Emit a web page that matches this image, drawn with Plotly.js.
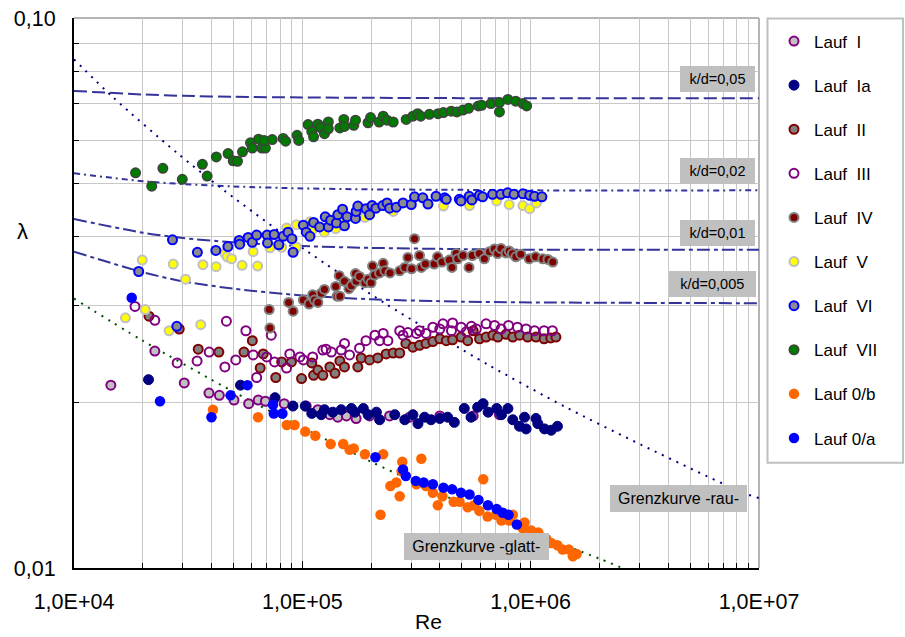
<!DOCTYPE html>
<html>
<head>
<meta charset="utf-8">
<script src="https://cdn.plot.ly/plotly-3.0.1.min.js"></script>
<style>html,body{margin:0;padding:0;background:#fff;}#chart{width:905px;height:637px;}</style>
</head>
<body>
<div id="chart"></div>
<script>
// ---------- data (Re, lambda) ----------
const seriesNames = ["Lauf\u00a0\u00a0I","Lauf\u00a0\u00a0Ia","Lauf\u00a0\u00a0II","Lauf\u00a0\u00a0III","Lauf\u00a0\u00a0IV","Lauf\u00a0\u00a0V","Lauf\u00a0\u00a0VI","Lauf\u00a0\u00a0VII","Lauf 0/b","Lauf 0/a"];

const reI  = [14500,22600,30400,39000,43300,50200,58200,64100,68900,83300,104000,117000,132000,143000,156000,172000,197000,241000,295000,400000,560000,730000];
const lamI = [0.0215,0.0248,0.0217,0.0208,0.0206,0.0202,0.0199,0.0202,0.0201,0.0199,0.0197,0.0194,0.0190,0.0188,0.0189,0.0187,0.0189,0.0189,0.0188,0.0189,0.0189,0.0190];

const reIa  = [21200,53600,75900,91000,103000,110000,121000,125000,136000,148000,164000,170000,185000,194000,211000,218000,254000,281000,305000,321000,343000,366000,400000,433000,463000,512000,548000,586000,619000,651000,710000,745000,795000,835000,893000,940000,955000,1055000,1075000,1150000,1230000,1310000];
const lamIa = [0.0220,0.0215,0.0204,0.0197,0.0197,0.0191,0.0190,0.0194,0.0192,0.0194,0.0195,0.0192,0.0195,0.0190,0.0192,0.0186,0.0190,0.0186,0.0190,0.0183,0.0188,0.0186,0.0187,0.0188,0.0184,0.0195,0.0188,0.0196,0.0199,0.0192,0.0195,0.0190,0.0195,0.0186,0.0181,0.0188,0.0179,0.0187,0.0183,0.0179,0.0178,0.0181];

const reII  = [21300,28900,35000,43100,55500,60400,65400,67400,76500,81200,89600,99200,110000,112000,117000,123000,132000,139000,146000,153000,175000,181000,197000,214000,233000,250000,267000,284000,305000,326000,348000,373000,400000,427000,455000,496000,530000,560000,597000,638000,683000,718000,780000,835000,895000,970000,1055000,1145000,1225000,1290000];
const lamII = [0.0287,0.0272,0.0250,0.0247,0.0247,0.0259,0.0231,0.0245,0.0222,0.0237,0.0237,0.0221,0.0236,0.0224,0.0229,0.0224,0.0232,0.0226,0.0238,0.0232,0.0232,0.0241,0.0239,0.0241,0.0245,0.0246,0.0246,0.0256,0.0252,0.0254,0.0256,0.0258,0.0261,0.0259,0.0260,0.0263,0.0259,0.0270,0.0261,0.0263,0.0265,0.0263,0.0266,0.0263,0.0265,0.0263,0.0263,0.0261,0.0262,0.0263];

const reIII  = [18500,22600,28300,34600,39100,45800,46500,51100,56600,60900,63100,69800,73100,75600,85300,88100,97600,101000,111000,123000,127000,134000,148000,153000,161000,178000,190000,208000,218000,226000,237000,267000,276000,290000,316000,326000,348000,373000,400000,413000,450000,455000,496000,523000,550000,578000,638000,695000,742000,800000,875000,955000,1040000,1145000,1245000];
const lamIII = [0.0299,0.0282,0.0236,0.0238,0.0247,0.0232,0.0281,0.0239,0.0270,0.0244,0.0222,0.0242,0.0265,0.0237,0.0231,0.0245,0.0242,0.0239,0.0242,0.0249,0.0250,0.0247,0.0249,0.0256,0.0244,0.0251,0.0259,0.0265,0.0259,0.0267,0.0259,0.0270,0.0265,0.0268,0.0267,0.0270,0.0267,0.0274,0.0272,0.0278,0.0270,0.0279,0.0274,0.0269,0.0275,0.0272,0.0278,0.0276,0.0272,0.0276,0.0274,0.0272,0.0270,0.0270,0.0270];

const reIV  = [71600,72100,87100,91100,101000,107000,111000,113000,117000,121000,125000,140000,142000,146000,145000,153000,160000,164000,171000,172000,178000,188000,194000,200000,203000,207000,218000,226000,230000,242000,267000,281000,290000,301000,310000,326000,332000,346000,378000,391000,409000,440000,452000,471000,479000,505000,537000,555000,596000,627000,660000,693000,716000,741000,780000,805000,832000,861000,905000,985000,1050000,1130000,1190000,1250000];
const lamIV = [0.0295,0.0273,0.0304,0.0293,0.0307,0.0302,0.0314,0.0307,0.0304,0.0316,0.0321,0.0325,0.0312,0.0312,0.0340,0.0332,0.0322,0.0326,0.0343,0.0332,0.0339,0.0330,0.0335,0.0330,0.0354,0.0341,0.0344,0.0358,0.0347,0.0344,0.0347,0.0352,0.0367,0.0350,0.0397,0.0370,0.0352,0.0357,0.0357,0.0368,0.0360,0.0363,0.0352,0.0373,0.0365,0.0370,0.0352,0.0370,0.0373,0.0365,0.0376,0.0380,0.0373,0.0381,0.0374,0.0377,0.0373,0.0368,0.0372,0.0365,0.0368,0.0365,0.0364,0.0360];

const reV  = [16800,20500,26100,35900,19900,27200,30800,36700,41900,45800,46900,49000,54500,60900,63700,72200,81200,85400,94300,94300,108000,110000,125000,140000,151000,188000,250000,415000,540000,710000,805000,925000,990000,1060000];
const lamV = [0.0285,0.0295,0.0270,0.0277,0.0363,0.0357,0.0335,0.0356,0.0353,0.0373,0.0368,0.0365,0.0355,0.0376,0.0354,0.0382,0.0383,0.0415,0.0383,0.0421,0.0426,0.0411,0.0408,0.0414,0.0432,0.0434,0.0445,0.0455,0.0456,0.0465,0.0458,0.0456,0.0450,0.0461];

const reVI  = [19200,27000,28200,34700,41800,47200,52900,53200,57900,60400,63100,70100,70400,75300,78900,82500,86600,90000,91100,101000,104000,108000,112000,119000,126000,130000,133000,141000,143000,150000,153000,157000,171000,172000,175000,190000,197000,202000,210000,225000,235000,241000,258000,276000,300000,310000,337000,355000,385000,420000,427000,487000,495000,538000,553000,596000,616000,681000,740000,792000,845000,925000,990000,1040000,1120000];
const lamVI = [0.0346,0.0395,0.0275,0.0375,0.0378,0.0384,0.0394,0.0388,0.0399,0.0391,0.0403,0.0403,0.0390,0.0404,0.0387,0.0401,0.0408,0.0397,0.0375,0.0420,0.0408,0.0401,0.0425,0.0417,0.0435,0.0417,0.0429,0.0424,0.0439,0.0449,0.0419,0.0435,0.0432,0.0445,0.0455,0.0450,0.0439,0.0456,0.0451,0.0456,0.0461,0.0451,0.0453,0.0461,0.0458,0.0473,0.0471,0.0459,0.0474,0.0471,0.0468,0.0468,0.0465,0.0474,0.0467,0.0476,0.0473,0.0478,0.0478,0.0481,0.0478,0.0479,0.0476,0.0474,0.0473];

const reVII  = [18600,21900,24500,29800,36500,38300,42000,47300,49800,52000,54700,59300,60400,64300,66500,68900,68000,73800,82400,84500,94800,96500,106000,110000,112000,117000,120000,125000,130000,130000,146000,152000,153000,168000,171000,194000,199000,217000,226000,235000,250000,285000,305000,320000,330000,360000,393000,415000,449000,475000,505000,535000,590000,610000,670000,730000,730000,795000,860000,925000,960000];
const lamVII = [0.0523,0.04945,0.0533,0.0509,0.0542,0.0516,0.0559,0.0567,0.0550,0.0549,0.0571,0.0593,0.0580,0.0602,0.0580,0.0580,0.0599,0.0601,0.0604,0.0597,0.0612,0.0599,0.0640,0.0622,0.0608,0.0641,0.0632,0.0616,0.0647,0.0629,0.0631,0.0654,0.0635,0.0638,0.0652,0.0645,0.0659,0.0647,0.0663,0.0652,0.0647,0.0654,0.0663,0.0670,0.0663,0.0668,0.0670,0.0673,0.0677,0.0675,0.0680,0.0685,0.0692,0.0694,0.0699,0.0675,0.0702,0.0711,0.0706,0.0699,0.0692];

const re0b  = [40600,64000,85500,92500,103000,114000,133000,151000,161000,168000,188000,226000,274000,332000,272000,258000,243000,267000,220000,316000,348000,373000,392000,411000,460000,488000,530000,565000,620000,596000,648000,705000,745000,805000,835000,940000,925000,1005000,1080000,1170000,1230000,1310000,1380000,1470000,1530000,1590000];
const lam0b = [0.0194,0.0188,0.0182,0.0182,0.0177,0.0174,0.0168,0.0168,0.0164,0.0165,0.0161,0.0161,0.0156,0.0158,0.0150,0.0143,0.0141,0.0135,0.0125,0.0142,0.0141,0.0137,0.0130,0.0135,0.0132,0.0132,0.0129,0.0130,0.0145,0.0127,0.0124,0.0125,0.0122,0.0122,0.0125,0.0121,0.0118,0.0117,0.0116,0.0113,0.0111,0.0110,0.0108,0.0108,0.0105,0.0106];

const re0a  = [17900,23800,40000,48500,57500,74400,75000,81800,209000,276000,284000,314000,340000,373000,415000,453000,495000,540000,591000,650000,710000,755000,800000,870000];
const lam0a = [0.0310,0.0201,0.0188,0.0206,0.0215,0.0198,0.0191,0.0191,0.0159,0.0151,0.0147,0.0144,0.0143,0.0142,0.0140,0.0139,0.0137,0.0136,0.0133,0.0130,0.0128,0.0126,0.0125,0.0120];

// reference curves
const reKd   = [10000,20000,30000,50000,100000,200000,500000,1000000,10000000];
const lamKd05  = [0.0737,0.0726,0.0722,0.0719,0.0717,0.0716,0.0715,0.0715,0.0715];
const lamKd02  = [0.0522,0.0505,0.0499,0.0494,0.0490,0.0488,0.0487,0.0486,0.0486];
const lamKd01  = [0.0431,0.0407,0.0398,0.0391,0.0385,0.0382,0.0380,0.0379,0.0379];
const lamKd005 = [0.0376,0.0345,0.0332,0.0322,0.0313,0.0308,0.0305,0.0304,0.0303];

const reRau  = [10000,14964,27900,45400,102800,229600,653600,1427700,3096000,8536000,10000000];
const lamRau = [0.0841,0.0715,0.0571,0.0486,0.0379,0.0303,0.0234,0.0196,0.0167,0.0137,0.0134];

const reGlatt  = [10000,20000,50000,100000,200000,500000,1000000,2000000,3000000];
const lamGlatt = [0.0309,0.0259,0.0209,0.0180,0.0156,0.0131,0.0116,0.0104,0.0097];

const xTickVals = [1e4,1e5,1e6,1e7];
const xTickText = ["1,0E+04","1,0E+05","1,0E+06","1,0E+07"];
const yTickVals = [0.01,0.1];
const yTickText = ["0,01","0,10"];
const kdLabels = ["k/d=0,05","k/d=0,02","k/d=0,01","k/d=0,005"];

// ---------- traces ----------
const curveColor = '#333399';
function curve(x, y, color, dash, w) {
  return {x:x, y:y, type:'scatter', mode:'lines', showlegend:false, hoverinfo:'skip',
          line:{color:color, width:w, dash:dash, shape:'spline', smoothing:0.8}};
}
const traces = [
  curve(reKd, lamKd05, curveColor, '13px,5px', 2),
  curve(reKd, lamKd02, curveColor, '6px,4px,2px,4px', 2),
  curve(reKd, lamKd01, curveColor, '13px,4px,4px,4px', 2),
  curve(reKd, lamKd005, curveColor, '13px,4px,4px,4px', 2),
  curve(reRau, lamRau, '#000080', '2px,6px', 2),
  curve(reGlatt, lamGlatt, '#004d00', '2px,6px', 2)
];
function pts(name, x, y, fill, lineColor, lw, size, symbol) {
  return {name:name, x:x, y:y, type:'scatter', mode:'markers', legendgroup:name,
          marker:{symbol:symbol||'circle', size:size, color:fill, line:{color:lineColor, width:lw}}};
}
traces.push(pts(seriesNames[0], reI, lamI, '#c0c0c0', '#800080', 2, 9));
traces.push(pts(seriesNames[1], reIa, lamIa, '#000080', '#000080', 1, 10));
traces.push(pts(seriesNames[2], reII, lamII, '#808080', '#800000', 2, 9));
traces.push(pts(seriesNames[3], reIII, lamIII, 'rgba(255,255,255,0)', '#800080', 2, 9));
traces.push(pts(seriesNames[4], reIV, lamIV, '#800000', '#808080', 2, 9));
traces.push(pts(seriesNames[5], reV, lamV, '#ffff00', '#c0c0c0', 2, 9));
traces.push(pts(seriesNames[6], reVI, lamVI, '#8c8c8c', '#0000ff', 2, 9));
traces.push(pts(seriesNames[7], reVII, lamVII, '#007a00', '#404040', 1.5, 9.5));
traces.push(pts(seriesNames[8], re0b, lam0b, '#ff6600', '#ff6600', 0, 10.5));
traces.push(pts(seriesNames[9], re0a, lam0a, '#0000ff', '#0000ff', 0, 10.5));

// minor ticks (axis configuration)
const xMinor = [];
[1e4,1e5,1e6].forEach(d => { for (let k = 2; k <= 9; k++) xMinor.push(k*d); });
const yMinor = [];
for (let k = 2; k <= 9; k++) yMinor.push(k*0.01);

// ---------- layout ----------
const L = 74, R = 759, T = 18, B = 568;
const W = R - L, H = B - T;
const px = v => (v - L) / W;
const py = v => (B - v) / H;

function box(text, left, top, w, h, size) {
  return {text:text, xref:'paper', yref:'paper', x:px(left), y:py(top), xanchor:'left', yanchor:'top',
          showarrow:false, bgcolor:'#c0c0c0', bordercolor:'rgba(0,0,0,0)', borderwidth:0, borderpad:5,
          width:w-10, height:h-10, align:'center', valign:'middle', font:{size:size, color:'#000'}};
}

const layout = {
  width:905, height:637,
  margin:{l:L, r:905-R, t:T, b:637-B, pad:0},
  paper_bgcolor:'#fff', plot_bgcolor:'#fff',
  font:{family:'Arial, "Liberation Sans", sans-serif', color:'#000'},
  showlegend:true,
  xaxis:{type:'log', range:[4,7], tickmode:'array', tickvals:xTickVals, ticktext:xTickText,
         ticks:'inside', ticklen:7, tickwidth:1.5, tickcolor:'#000',
         showline:true, linecolor:'#000', linewidth:2, zeroline:false,
         showgrid:true, gridcolor:'#c8c8c8', gridwidth:1,
         tickfont:{size:21.5, color:'#000'}, ticklabelstandoff:13,
         minor:{tickmode:'array', tickvals:xMinor, ticks:'inside', ticklen:5, tickwidth:1, tickcolor:'#000',
                showgrid:true, gridcolor:'#c8c8c8', gridwidth:1}},
  yaxis:{type:'log', range:[-2,-1], tickmode:'array', tickvals:yTickVals, ticktext:yTickText,
         ticks:'inside', ticklen:7, tickwidth:1.5, tickcolor:'#000',
         showline:true, linecolor:'#000', linewidth:2, zeroline:false,
         showgrid:true, gridcolor:'#c8c8c8', gridwidth:1,
         tickfont:{size:21.5, color:'#000'}, ticklabelstandoff:12,
         minor:{tickmode:'array', tickvals:yMinor, ticks:'inside', ticklen:5, tickwidth:1, tickcolor:'#000',
                showgrid:true, gridcolor:'#c8c8c8', gridwidth:1}},
  legend:{x:px(774), xanchor:'left', y:py(23.5), yanchor:'top', bgcolor:'rgba(0,0,0,0)', borderwidth:0,
          font:{size:17, color:'#000'}, traceorder:'grouped', tracegroupgap:19},
  shapes:[
    {type:'line', xref:'paper', yref:'paper', x0:0, x1:1, y0:1, y1:1, line:{color:'#b4b4b4', width:2}, layer:'below'},
    {type:'line', xref:'paper', yref:'paper', x0:1, x1:1, y0:0, y1:1, line:{color:'#b4b4b4', width:2}, layer:'below'},
    {type:'rect', xref:'paper', yref:'paper', x0:px(767.5), x1:px(903), y0:py(462.7), y1:py(18.5),
     line:{color:'#c0c0c0', width:2}, fillcolor:'rgba(0,0,0,0)'}
  ],
  annotations:[
    box(kdLabels[0], 680, 66, 75, 26, 14.5),
    box(kdLabels[1], 680, 157.5, 75, 26, 14.5),
    box(kdLabels[2], 680, 220, 75, 26, 14.5),
    box(kdLabels[3], 668.5, 270.5, 86.5, 26, 14.5),
    box('Grenzkurve -rau-', 610, 485, 137, 26.5, 16),
    box('Grenzkurve -glatt-', 404, 533, 144.5, 26.5, 16),
    {text:'λ', xref:'paper', yref:'paper', x:px(22), y:py(232), xanchor:'center', yanchor:'middle',
     showarrow:false, font:{size:22, color:'#000'}},
    {text:'Re', xref:'paper', yref:'paper', x:px(428), y:py(621), xanchor:'center', yanchor:'middle',
     showarrow:false, font:{size:21, color:'#000'}}
  ]
};

Plotly.newPlot('chart', traces, layout, {displayModeBar:false, staticPlot:true});
</script>
</body>
</html>
